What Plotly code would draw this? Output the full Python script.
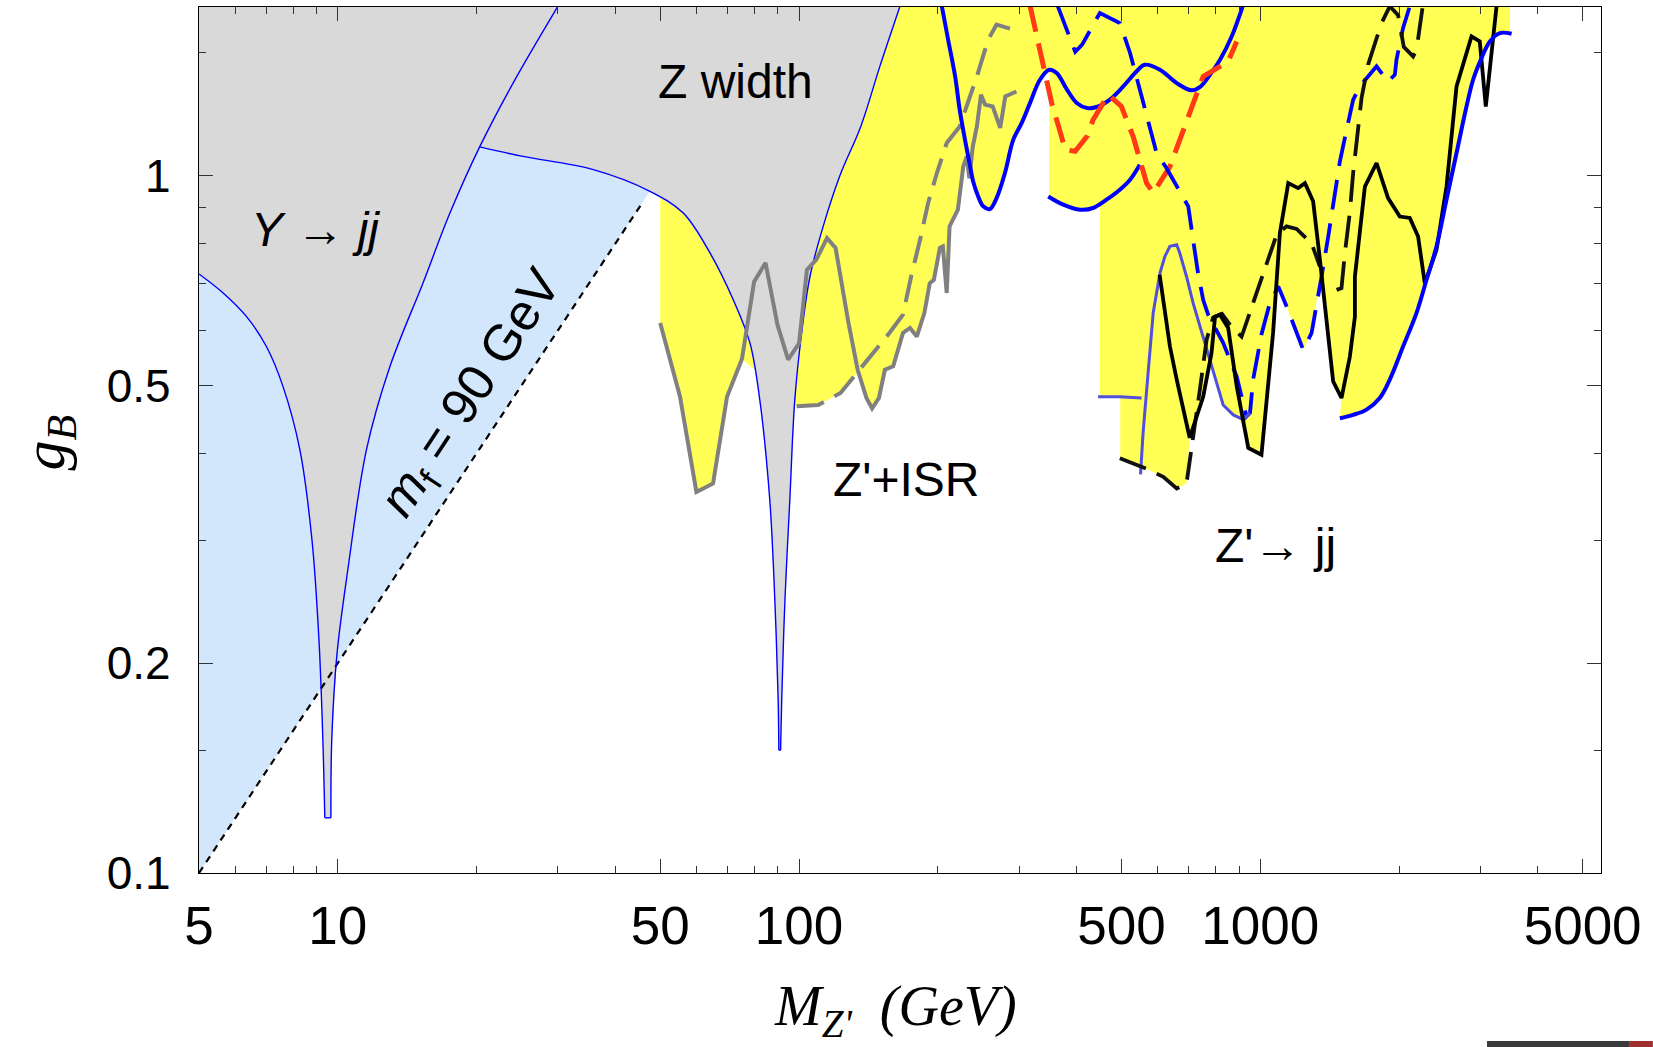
import math
import plotly.graph_objects as go

# ---------------- axes ----------------
X_RANGE = (5, 5480)
Y_RANGE = (0.1, 1.746)
x_major = [5, 10, 50, 100, 500, 1000, 5000]
x_minor = [6, 7, 8, 9, 20, 30, 40, 60, 70, 80, 90, 200, 300, 400, 600, 700, 800, 900, 2000, 3000, 4000]
y_major = [0.1, 0.2, 0.5, 1]
y_major_text = ["0.1", "0.2", "0.5", "1"]
y_minor = [0.15, 0.3, 0.4, 0.6, 0.7, 0.8, 0.9, 1.5]

# ---------------- theory curves ----------------
ups_x = [5.0, 5.64, 6.34, 7.00, 7.61, 8.27, 8.79, 9.10, 9.28, 9.37, 9.66, 9.70, 9.96, 10.51, 11.54, 12.97, 15.3, 17.5, 20.3, 24.0, 30.0]
ups_y = [0.723, 0.679, 0.628, 0.569, 0.498, 0.405, 0.300, 0.216, 0.155, 0.120, 0.120, 0.155, 0.2065, 0.272, 0.405, 0.5325, 0.702, 0.884, 1.10, 1.359, 1.75]
UPS_TIP = 9    # last point of the left branch
KINK = 18      # index of Upsilon/Z-width crossing

zw_x = [20.3, 25.2, 35.5, 47.5, 56.1, 64.1, 72.0, 78.3, 82.2, 86.4, 88.6, 90.1, 90.4, 91.2, 91.7, 93.2, 95.5, 97.9, 101.3, 105.6, 112.8, 122.6, 136.1, 149.7, 165.5]
zw_y = [1.10, 1.066, 1.022, 0.95, 0.884, 0.775, 0.664, 0.575, 0.477, 0.343, 0.2465, 0.177, 0.15, 0.15, 0.177, 0.2465, 0.343, 0.4775, 0.595, 0.717, 0.846, 1.0, 1.177, 1.435, 1.75]
ZW_TIP = 12

mf_x = [5, 45.6]
mf_y = [0.1, 0.912]

# ---------------- experimental limits ----------------
gs_x = [50, 55.2, 59.9, 65.1, 69.8, 75.2, 79.9, 84.6, 89.8, 94.7, 100, 104, 109, 115, 120, 128, 134, 140, 144, 149, 153.5, 160, 168, 174, 180, 187, 192, 196, 202, 205, 209, 212, 221, 227, 231, 234, 238, 243, 248, 253, 263, 273, 280, 296]
gs_y = [0.615, 0.482, 0.352, 0.362, 0.482, 0.546, 0.705, 0.75, 0.611, 0.545, 0.575, 0.733, 0.758, 0.814, 0.788, 0.615, 0.527, 0.48, 0.464, 0.48, 0.527, 0.533, 0.595, 0.605, 0.588, 0.636, 0.701, 0.709, 0.788, 0.792, 0.679, 0.846, 0.894, 1.031, 1.066, 0.992, 1.10, 1.177, 1.307, 1.265, 1.257, 1.171, 1.30, 1.321]
gd_x = [98.8, 110, 123, 135.5, 145, 157, 168, 175, 183, 190.5, 199, 209, 223, 231, 243, 257, 268, 292]
gd_y = [0.467, 0.469, 0.488, 0.527, 0.557, 0.595, 0.632, 0.717, 0.81, 0.914, 1.009, 1.114, 1.177, 1.257, 1.388, 1.567, 1.647, 1.62]
bu_x = [204, 210.5, 218, 223, 229, 235, 238.5, 244.6, 250.8, 259.3, 268.1, 279.5, 291.3, 303.8, 316.7, 332.9, 348.7, 362, 381, 400, 421, 442, 472, 504.5, 539, 562, 606, 659, 709.5, 739.5, 778, 818, 867, 916]
bu_y = [1.75, 1.567, 1.388, 1.244, 1.126, 1.031, 0.981, 0.934, 0.904, 0.896, 0.929, 1.009, 1.126, 1.19, 1.271, 1.373, 1.419, 1.404, 1.329, 1.272, 1.251, 1.255, 1.286, 1.343, 1.411, 1.443, 1.419, 1.358, 1.326, 1.34, 1.396, 1.467, 1.584, 1.75]
bl_x = [347, 374, 407, 434, 464, 496, 522, 548]
bl_y = [0.934, 0.909, 0.894, 0.899, 0.924, 0.955, 0.987, 1.037]
rd_x = [317, 342, 353, 368, 377.5, 397, 421, 434, 468, 500, 530, 567, 586, 637, 692, 752, 818, 852, 889]
rd_y = [1.75, 1.388, 1.271, 1.158, 1.09, 1.084, 1.139, 1.203, 1.307, 1.257, 1.139, 0.976, 0.945, 1.031, 1.203, 1.388, 1.435, 1.459, 1.558]
bdk_x = [364, 397, 411, 449, 496, 522, 553, 576, 596, 626, 678, 698, 715, 733, 752, 771, 831, 889, 934]
bdk_y = [1.75, 1.506, 1.542, 1.712, 1.656, 1.50, 1.30, 1.171, 1.078, 1.026, 0.934, 0.904, 0.81, 0.725, 0.664, 0.632, 0.576, 0.515, 0.451]
bdi_x = [919, 950, 965, 1006, 1049, 1094, 1140, 1219, 1239, 1292, 1313, 1358, 1404, 1439, 1488, 1539, 1590, 1644, 1787, 1893, 1958, 1974, 2040, 2110]
bdi_y = [0.447, 0.457, 0.51, 0.592, 0.657, 0.694, 0.650, 0.582, 0.563, 0.595, 0.636, 0.717, 0.818, 0.909, 1.048, 1.164, 1.285, 1.343, 1.435, 1.365, 1.396, 1.467, 1.629, 1.75]
sl1_x = [445, 496, 553]
sl1_y = [0.482, 0.482, 0.480]
sl2_x = [550, 557, 572, 586, 606, 621, 637, 659, 669, 692, 715, 739.5, 778, 831, 874, 919, 950]
sl2_y = [0.373, 0.427, 0.527, 0.636, 0.725, 0.766, 0.792, 0.796, 0.775, 0.717, 0.657, 0.608, 0.545, 0.469, 0.454, 0.447, 0.457]
kd1_x = [496, 567, 616, 659, 692, 709.5, 739.5, 765, 790, 826, 860, 911, 965, 1032, 1085, 1140, 1199, 1292, 1347]
kd1_y = [0.3935, 0.380, 0.370, 0.356, 0.362, 0.404, 0.493, 0.582, 0.626, 0.634, 0.611, 0.588, 0.657, 0.753, 0.823, 0.846, 0.839, 0.800, 0.741]
kd2_x = [1464, 1500, 1526, 1564, 1590, 1617, 1658, 1713, 1832, 1909, 1990, 2047, 2145, 2182, 2237, 2250]
kd2_y = [0.686, 0.690, 0.775, 0.887, 1.009, 1.114, 1.293, 1.443, 1.656, 1.75, 1.70, 1.531, 1.483, 1.516, 1.712, 1.75]
ks_x = [605, 637, 659, 703, 752, 784, 798, 818, 852, 889, 942, 1006, 1066, 1103, 1150, 1208, 1250, 1302, 1347, 1439, 1500, 1564, 1604, 1604, 1686, 1787, 1893, 2007, 2110, 2199, 2274, 2411, 2534, 2664, 2871, 2992, 3083, 3253]
ks_y = [0.721, 0.569, 0.510, 0.421, 0.482, 0.557, 0.628, 0.632, 0.605, 0.499, 0.407, 0.398, 0.595, 0.828, 0.976, 0.960, 0.976, 0.919, 0.758, 0.507, 0.480, 0.550, 0.628, 0.717, 0.965, 1.043, 0.929, 0.874, 0.870, 0.818, 0.701, 0.783, 0.965, 1.343, 1.584, 1.558, 1.257, 1.75]
br_x = [1488, 1590, 1700, 1816, 1909, 2040, 2182, 2293, 2411, 2534, 2664, 2800, 2894, 3018, 3146, 3307, 3507]
br_y = [0.449, 0.454, 0.462, 0.480, 0.510, 0.569, 0.636, 0.709, 0.792, 0.924, 1.078, 1.257, 1.373, 1.475, 1.558, 1.602, 1.598]

ye_x = [50, 50, 55.2, 59.9, 65.1, 69.8, 75.2, 98.8, 110, 123, 135.5, 140, 144, 149, 153.5, 160, 168, 174, 180, 187, 192, 196, 202, 205, 209, 212, 221, 227, 231, 234, 238.5, 244.6, 250.8, 259.3, 268.1, 279.5, 291.3, 303.8, 316.7, 332.9, 348.7, 348.7, 374, 407, 434, 449, 449, 497, 497, 567, 616, 659, 692, 703, 752, 770, 831, 874, 903, 920, 942, 968, 1006, 1066, 1085, 1094, 1140, 1219, 1239, 1292, 1313, 1350, 1439, 1500, 1488, 1590, 1700, 1816, 1909, 2040, 2182, 2293, 2411, 2534, 2664, 2800, 2894, 3018, 3146, 3307, 3480, 3480]
ye_y = [1.75, 0.615, 0.482, 0.352, 0.362, 0.482, 0.546, 0.467, 0.469, 0.488, 0.527, 0.48, 0.464, 0.48, 0.527, 0.533, 0.595, 0.605, 0.588, 0.636, 0.701, 0.709, 0.788, 0.792, 0.679, 0.846, 0.894, 1.031, 1.066, 0.992, 0.981, 0.934, 0.904, 0.896, 0.929, 1.009, 1.126, 1.19, 1.271, 1.373, 1.419, 0.934, 0.909, 0.894, 0.899, 0.906, 0.482, 0.482, 0.3935, 0.380, 0.370, 0.356, 0.362, 0.421, 0.482, 0.552, 0.469, 0.454, 0.447, 0.432, 0.407, 0.402, 0.398, 0.595, 0.686, 0.694, 0.650, 0.582, 0.563, 0.595, 0.636, 0.721, 0.507, 0.480, 0.449, 0.454, 0.462, 0.480, 0.510, 0.569, 0.636, 0.709, 0.792, 0.924, 1.078, 1.257, 1.373, 1.475, 1.558, 1.602, 1.598, 1.75]

labels = [
    ("<i>Y</i> → <i>jj</i>", 8.96, 0.837, 0, 48),
    ("Z width", 72.9, 1.363, 0, 48),
    ("Z'+ISR", 171, 0.3667, 0, 48),
    ("Z'→ jj", 1080, 0.2945, 0, 48),
    ("<i>m</i><sub>f</sub> = 90 GeV", 19.6, 0.486, -56.5, 51),
]

TOP = 1.75
YELLOW = "#FFFF55"
GRAY_FILL = "#D9D9D9"
LBLUE = "#D3E7FC"
BLUE = "#0000FF"
GRAY = "#808080"
RED = "#FF3A14"
SLATE = "#5050DC"
BLACK = "#000000"

fig = go.Figure()

fig.add_trace(go.Scatter(x=ye_x, y=ye_y, fill="toself", fillcolor=YELLOW,
                         mode="lines", line=dict(width=0), hoverinfo="skip"))
lb_x = [mf_x[0]] + zw_x[3::-1] + ups_x[KINK - 1::-1]
lb_y = [mf_y[0]] + zw_y[3::-1] + ups_y[KINK - 1::-1]
fig.add_trace(go.Scatter(x=lb_x, y=lb_y, fill="toself", fillcolor=LBLUE,
                         mode="lines", line=dict(width=0), hoverinfo="skip"))
g_x = [ups_x[0]] + ups_x[:KINK + 1] + zw_x[1:]
g_y = [TOP] + ups_y[:KINK + 1] + zw_y[1:]
fig.add_trace(go.Scatter(x=g_x, y=g_y, fill="toself", fillcolor=GRAY_FILL,
                         mode="lines", line=dict(width=0), hoverinfo="skip"))

def line(x, y, color, width, dash="solid", shape="linear"):
    fig.add_trace(go.Scatter(x=x, y=y, mode="lines",
                             line=dict(color=color, width=width, dash=dash, shape=shape),
                             hoverinfo="skip"))

line(mf_x, mf_y, BLACK, 2.2, dash="7px,6px")
# Upsilon and Z-width curves: each branch drawn smooth, tips joined straight
line(ups_x[:UPS_TIP + 1], ups_y[:UPS_TIP + 1], BLUE, 1.4, shape="spline")
line(ups_x[UPS_TIP:UPS_TIP + 2], ups_y[UPS_TIP:UPS_TIP + 2], BLUE, 1.4)
line(ups_x[UPS_TIP + 1:], ups_y[UPS_TIP + 1:], BLUE, 1.4, shape="spline")
line(zw_x[:ZW_TIP + 1], zw_y[:ZW_TIP + 1], BLUE, 1.4, shape="spline")
line(zw_x[ZW_TIP:ZW_TIP + 2], zw_y[ZW_TIP:ZW_TIP + 2], BLUE, 1.4)
line(zw_x[ZW_TIP + 1:], zw_y[ZW_TIP + 1:], BLUE, 1.4, shape="spline")

line(gs_x, gs_y, GRAY, 4)
line(gd_x, gd_y, GRAY, 4, dash="28px,12px")
line(bu_x, bu_y, BLUE, 4, shape="spline")
line(bl_x, bl_y, BLUE, 4, shape="spline")
line(rd_x, rd_y, RED, 5, dash="26px,12px")
line(bdk_x, bdk_y, BLUE, 3.8, dash="30px,14px")
line(bdi_x, bdi_y, BLUE, 3.8, dash="30px,14px")
line(sl1_x, sl1_y, SLATE, 3)
line(sl2_x, sl2_y, SLATE, 3)
line(kd1_x, kd1_y, "#111111", 3.8, dash="28px,12px")
line(kd2_x, kd2_y, "#111111", 3.8, dash="32px,14px")
line(ks_x, ks_y, BLACK, 3.8)
line(br_x, br_y, BLUE, 4, shape="spline")

for txt, lx, ly, ang, sz in labels:
    fig.add_annotation(x=math.log10(lx), y=math.log10(ly), xref="x", yref="y",
                       text=txt, showarrow=False, textangle=ang,
                       font=dict(family="Liberation Sans, Arial, sans-serif", size=sz, color="black"))

fig.add_annotation(xref="paper", yref="paper", x=0.497, y=-0.158, yanchor="middle",
                   text="<i>M</i><sub><i>Z'</i></sub>  <i>(GeV)</i>", showarrow=False,
                   font=dict(family="Liberation Serif, Times New Roman, serif", size=56, color="black"))
fig.add_annotation(xref="paper", yref="paper", x=-0.108, y=0.4965, xanchor="center",
                   text="<i>g<sub>B</sub></i>", showarrow=False, textangle=-90,
                   font=dict(family="Liberation Serif, Times New Roman, serif", size=60, color="black"))

# small strip at the lower right corner of the reference picture
fig.add_shape(type="rect", xref="paper", yref="paper", x0=0.9187, x1=1.02, y0=-0.2009, y1=-0.194,
              fillcolor="#3a3a3a", line=dict(width=0))
fig.add_shape(type="rect", xref="paper", yref="paper", x0=1.02, x1=1.037, y0=-0.2009, y1=-0.194,
              fillcolor="#a03030", line=dict(width=0))

axis_common = dict(type="log", showgrid=False, zeroline=False, showline=True,
                   linecolor="black", linewidth=1.3, mirror="allticks",
                   ticks="inside", ticklen=14, tickwidth=1.2, tickcolor="#333333")
fig.update_xaxes(range=[math.log10(X_RANGE[0]), math.log10(X_RANGE[1])],
                 tickvals=x_major, ticktext=[str(v) for v in x_major],
                 tickfont=dict(family="Liberation Sans, Arial, sans-serif", size=53, color="black"),
                 minor=dict(tickvals=x_minor, ticks="inside", ticklen=7, tickwidth=1.1, tickcolor="#333333"),
                 ticklabelstandoff=6, **axis_common)
fig.update_yaxes(range=[math.log10(Y_RANGE[0]), math.log10(Y_RANGE[1])],
                 tickvals=y_major, ticktext=y_major_text,
                 tickfont=dict(family="Liberation Sans, Arial, sans-serif", size=46, color="black"),
                 minor=dict(tickvals=y_minor, ticks="inside", ticklen=7, tickwidth=1.1, tickcolor="#333333"),
                 ticklabelstandoff=18, **axis_common)

fig.update_layout(width=1653, height=1047, margin=dict(l=199, r=52, t=7, b=174),
                  plot_bgcolor="white", paper_bgcolor="white", showlegend=False)

fig.write_html("out.html")
